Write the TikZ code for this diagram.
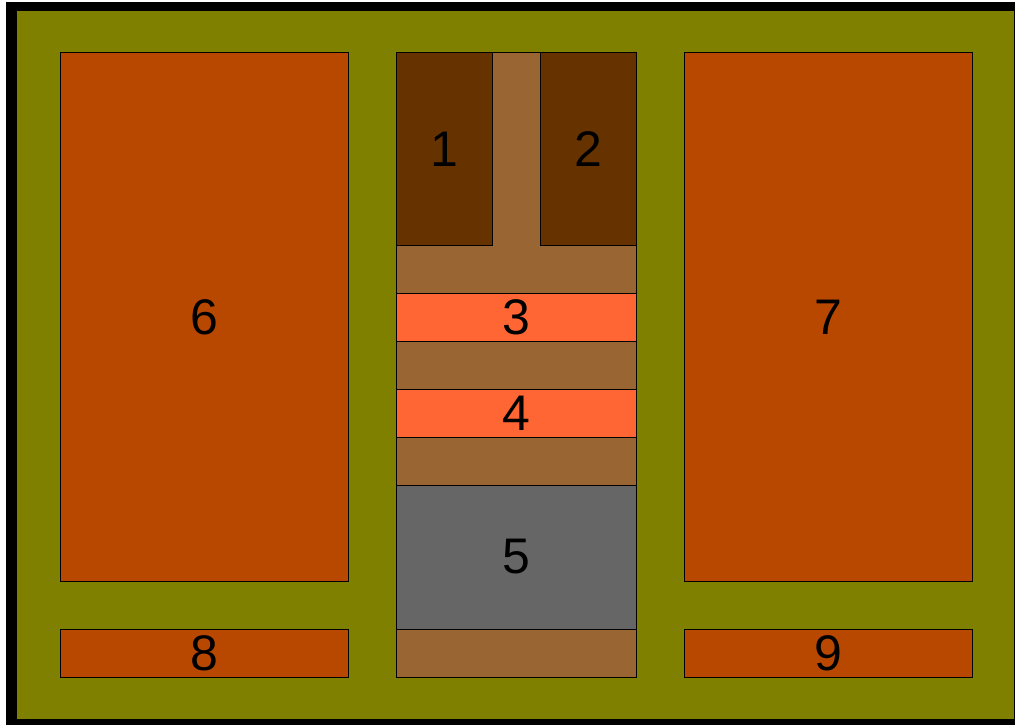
\documentclass[tikz,border=0pt]{standalone}
\usepackage{fontspec}
\setmainfont{Liberation Sans}
\usepackage{tikz}
\usetikzlibrary{positioning}
\definecolor{groundOlive}{HTML}{808000}
\definecolor{roomRust}{HTML}{B84700}
\definecolor{hallBrown}{HTML}{996633}
\definecolor{darkBrown}{HTML}{663300}
\definecolor{bandOrange}{HTML}{FF6633}
\definecolor{coreGray}{HTML}{666666}

\begin{document}
\begin{tikzpicture}[
    x=1pt, y=-1pt,
    block/.style={rectangle, draw=black, line width=1pt, inner sep=0pt, outer sep=0pt, anchor=north west, font=\fontsize{50}{60}\selectfont, text=black},
    bigRoom/.style={block, fill=roomRust, minimum width=288pt, minimum height=528pt},
    lowRoom/.style={block, fill=roomRust, minimum width=288pt, minimum height=48pt},
    band/.style={block, fill=bandOrange, minimum width=240pt, minimum height=48pt},
    cell/.style={block, fill=darkBrown, minimum width=96pt, minimum height=192pt}
]
    \useasboundingbox (0,0) rectangle (1015,725);

    % Ground and frame
    \fill[black] (6,2) rectangle (1020,730);
    \fill[groundOlive] (17,11) rectangle (1014,719);

    % Central hall
    \node[block, fill=hallBrown, minimum width=240pt, minimum height=624pt] (hall) at (396,53) {};

    % Side rooms
    \node[bigRoom] (r6) at (60,53) {6};
    \node[bigRoom] (r7) at (684,53) {7};
    \node[lowRoom] (r8) at (60,629) {8};
    \node[lowRoom] (r9) at (684,629) {9};

    % Hall contents
    \node[cell] (r1) at (396,53) {1};
    \node[cell] (r2) at (540,53) {2};
    \node[band] (r3) at (396,293) {3};
    \node[band] (r4) at (396,389) {4};
    \node[block, fill=coreGray, minimum width=240pt, minimum height=144pt] (r5) at (396,485) {5};
\end{tikzpicture}
\end{document}
